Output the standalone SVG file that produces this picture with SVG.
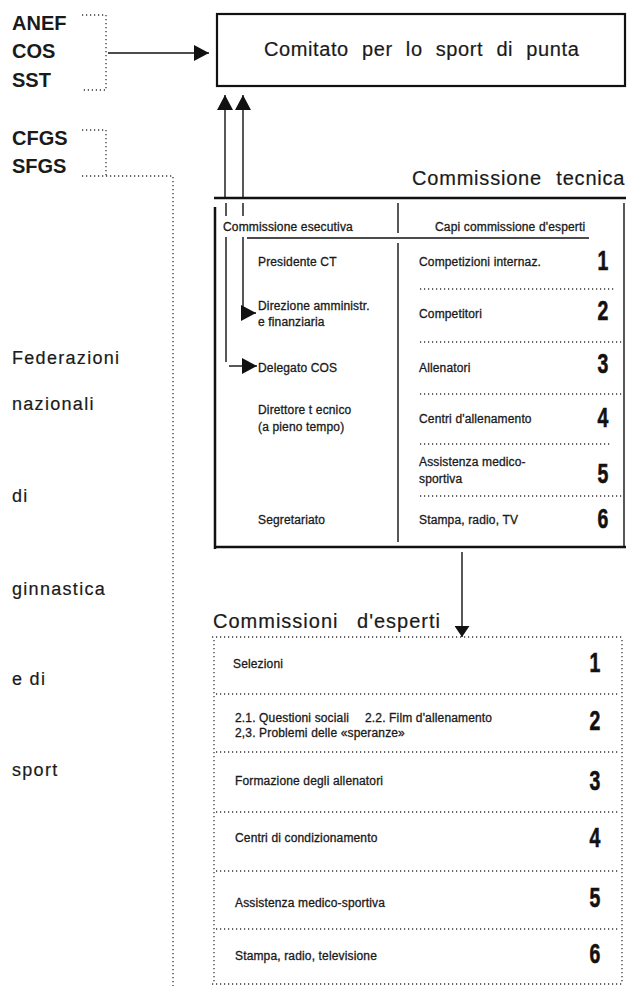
<svg xmlns="http://www.w3.org/2000/svg" width="628" height="986" viewBox="0 0 628 986">
<style>
.t{font-family:"Liberation Sans",Arial,Helvetica,sans-serif;fill:#1a1a1a}
.hd{font-size:20px;font-weight:bold}
.big{font-size:20px;stroke:#1a1a1a;stroke-width:0.2}
.lab{font-size:18px;letter-spacing:1.3px;stroke:#1a1a1a;stroke-width:0.2}
.sm{font-size:12px;letter-spacing:0.15px;stroke:#1a1a1a;stroke-width:0.3}
.num{font-family:"Liberation Sans",Arial,sans-serif;font-weight:bold;font-size:27px;fill:#111;text-anchor:middle;stroke:#111;stroke-width:0.6}
.dot{stroke:#333;stroke-width:1.3;stroke-dasharray:1.2 2.8;fill:none}
.ln{stroke:#111;fill:none;stroke-width:1.4}
.thick{stroke:#111;fill:none;stroke-width:2.5}
</style>
<defs>
<marker id="tri" viewBox="0 0 10 10" refX="10" refY="5" markerUnits="userSpaceOnUse" markerWidth="15" markerHeight="16" orient="auto" preserveAspectRatio="none">
<path d="M0,0 L10,5 L0,10 Z" fill="#111"/>
</marker>
<marker id="triS" viewBox="0 0 10 10" refX="10" refY="5" markerUnits="userSpaceOnUse" markerWidth="11" markerHeight="15" orient="auto" preserveAspectRatio="none">
<path d="M0,0 L10,5 L0,10 Z" fill="#111"/>
</marker>
</defs>
<rect width="628" height="986" fill="#fff"/>

<g id="sources">
<text class="t hd" x="12" y="30">ANEF</text>
<text class="t hd" x="12" y="58">COS</text>
<text class="t hd" x="12" y="87">SST</text>
<path class="dot" d="M82,15 H106 V90 H83"/>
</g>

<g id="federazioni">
<text class="t hd" x="12" y="145">CFGS</text>
<text class="t hd" x="12" y="173">SFGS</text>
<path class="dot" d="M82,130 H106 V176"/>
<path class="dot" d="M82,176 H173 V986"/>
<text class="t lab" x="12" y="364">Federazioni</text>
<text class="t lab" x="12" y="410">nazionali</text>
<text class="t lab" x="12" y="502">di</text>
<text class="t lab" x="12" y="595">ginnastica</text>
<text class="t lab" x="12" y="685">e di</text>
<text class="t lab" x="12" y="776">sport</text>
</g>

<g id="comitato">
<rect x="217" y="14" width="408" height="72" fill="none" stroke="#111" stroke-width="2.2"/>
<text class="t big" x="264" y="56" letter-spacing="0.6" word-spacing="7">Comitato per lo sport di punta</text>
</g>

<g id="commissione-tecnica">
<text class="t big" x="412" y="185" letter-spacing="0.8" word-spacing="8">Commissione tecnica</text>
<path class="thick" d="M214,198 H626"/>
<path class="thick" d="M215,207 V549"/>
<path class="thick" d="M214,547 H626"/>
<path class="ln" d="M624,203 V546"/>
<path class="ln" d="M398,203 V233 M398,243 V542"/>
<path class="ln" d="M247,238 H589"/>
<text class="t sm" x="223" y="231">Commissione esecutiva</text>
<text class="t sm" x="435" y="231">Capi commissione d'esperti</text>
<text class="t sm" x="258" y="266">Presidente CT</text>
<text class="t sm" x="258" y="310">Direzione amministr.</text>
<text class="t sm" x="258" y="326">e finanziaria</text>
<text class="t sm" x="258" y="372">Delegato COS</text>
<text class="t sm" x="258" y="414">Direttore t ecnico</text>
<text class="t sm" x="258" y="431">(a pieno tempo)</text>
<text class="t sm" x="258" y="524">Segretariato</text>
<path class="dot" d="M420,289 H614 M420,342 H622 M420,394 H622 M420,444 H612 M420,496 H622"/>
<text class="t sm" x="419" y="266">Competizioni internaz.</text>
<text class="t sm" x="419" y="318">Competitori</text>
<text class="t sm" x="419" y="372">Allenatori</text>
<text class="t sm" x="419" y="423">Centri d'allenamento</text>
<text class="t sm" x="419" y="466">Assistenza medico-</text>
<text class="t sm" x="419" y="483">sportiva</text>
<text class="t sm" x="419" y="524">Stampa, radio, TV</text>
<text class="num" transform="translate(603,270) scale(0.72,1)">1</text>
<text class="num" transform="translate(603,320) scale(0.72,1)">2</text>
<text class="num" transform="translate(603,373) scale(0.72,1)">3</text>
<text class="num" transform="translate(603,427) scale(0.72,1)">4</text>
<text class="num" transform="translate(603,483) scale(0.72,1)">5</text>
<text class="num" transform="translate(603,528) scale(0.72,1)">6</text>
</g>

<g id="commissioni-esperti">
<text class="t big" x="213" y="628" letter-spacing="1" word-spacing="12">Commissioni d'esperti</text>
<path class="dot" d="M212,637 H622 M214,640 V984 M622,640 V984 M212,984 H622"/>
<path class="dot" d="M216,694 H620 M216,752 H620 M216,812 H620 M216,871 H620 M216,929 H620"/>
<text class="t sm" x="233" y="668">Selezioni</text>
<text class="t sm" x="235" y="722">2.1. Questioni sociali</text>
<text class="t sm" x="365" y="722">2.2. Film d'allenamento</text>
<text class="t sm" x="235" y="737">2,3. Problemi delle «speranze»</text>
<text class="t sm" x="235" y="785">Formazione degli allenatori</text>
<text class="t sm" x="235" y="842">Centri di condizionamento</text>
<text class="t sm" x="235" y="907">Assistenza medico-sportiva</text>
<text class="t sm" x="235" y="960">Stampa, radio, televisione</text>
<text class="num" transform="translate(595,672) scale(0.72,1)">1</text>
<text class="num" transform="translate(595,730) scale(0.72,1)">2</text>
<text class="num" transform="translate(595,790) scale(0.72,1)">3</text>
<text class="num" transform="translate(595,847) scale(0.72,1)">4</text>
<text class="num" transform="translate(595,907) scale(0.72,1)">5</text>
<text class="num" transform="translate(595,963) scale(0.72,1)">6</text>
</g>

<g id="connectors">
<path class="ln" d="M108,53 H209" marker-end="url(#tri)"/>
<path class="ln" d="M225,198 V95" marker-end="url(#tri)"/>
<path class="ln" d="M243,198 V95" marker-end="url(#tri)"/>
<path class="ln" d="M226,203 V216 M243,203 V216"/>
<path class="ln" d="M226,237 V362"/>
<path class="ln" d="M229,366 H257" marker-end="url(#tri)"/>
<path class="ln" d="M243,237 V313 H256" marker-end="url(#tri)"/>
<path class="ln" d="M462,552 V637" marker-end="url(#triS)"/>
</g>
</svg>
